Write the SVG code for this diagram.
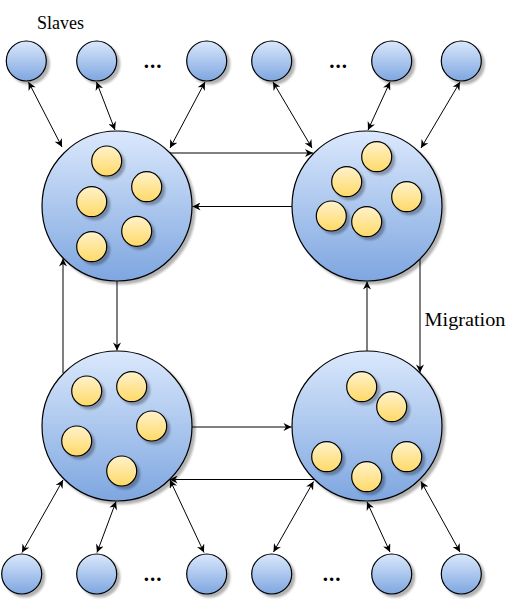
<svg xmlns="http://www.w3.org/2000/svg" width="524" height="601" viewBox="0 0 524 601">
<defs>
<linearGradient id="gb" x1="0" y1="0" x2="0" y2="1"><stop offset="0" stop-color="#dae8fc"/><stop offset="1" stop-color="#7ea6e0"/></linearGradient>
<linearGradient id="gy" x1="0" y1="0" x2="0" y2="1"><stop offset="0" stop-color="#fff2cc"/><stop offset="1" stop-color="#ffd966"/></linearGradient>
<filter id="sh" x="-20%" y="-20%" width="150%" height="150%"><feDropShadow dx="3" dy="3" stdDeviation="1.2" flood-color="#000" flood-opacity="0.3"/></filter>
<marker id="ar" viewBox="0 0 10 10" refX="10" refY="5" markerWidth="9" markerHeight="8" markerUnits="userSpaceOnUse" orient="auto-start-reverse"><path d="M0,0 L10,5 L0,10 L3,5 z" fill="#000"/></marker>
</defs>
<style>
.b{fill:url(#gb);stroke:#000;stroke-width:1.2;filter:url(#sh)}
.y{fill:url(#gy);stroke:#000;stroke-width:1.2;filter:url(#sh)}
.c{fill:none;stroke:#000;stroke-width:1}
.d{marker-start:url(#ar);marker-end:url(#ar)}
.e{marker-end:url(#ar)}
.t{font-family:"Liberation Serif","Times New Roman",serif;font-size:19px;fill:#000}
.dots{font-family:"Liberation Serif","Times New Roman",serif;font-size:21px;font-weight:bold;fill:#000;text-anchor:middle;letter-spacing:1px}
</style>
<g id="connectors">
<path class="c d" d="M28.5,82 L62,147"/>
<path class="c d" d="M96.5,82 L115,130"/>
<path class="c d" d="M205,82 L170,148"/>
<path class="c d" d="M273,82 L312,148"/>
<path class="c d" d="M390,82 L368,130"/>
<path class="c d" d="M460,82 L421,148"/>
<path class="c d" d="M63,480 L22,552.5"/>
<path class="c d" d="M116,501.5 L97,552.5"/>
<path class="c d" d="M170,480 L204,552.5"/>
<path class="c d" d="M313.5,481.5 L273.5,552"/>
<path class="c d" d="M367,502 L390,552"/>
<path class="c d" d="M421,481.5 L460,552"/>
<path class="c e" d="M170,153 H313"/>
<path class="c e" d="M292,206.5 H192.5"/>
<path class="c e" d="M117,281 V350.5"/>
<path class="c e" d="M63,373 V258.5"/>
<path class="c e" d="M420,259 V372.5"/>
<path class="c e" d="M367,351 V281.5"/>
<path class="c e" d="M192,427 H291.5"/>
<path class="c e" d="M314,479.5 H169.5"/>
</g>
<g id="master-tl">
<circle class="b" cx="117" cy="206" r="75"/>
<circle class="y" cx="106.7" cy="161" r="15"/>
<circle class="y" cx="146.7" cy="186.7" r="15"/>
<circle class="y" cx="91.7" cy="201.7" r="15"/>
<circle class="y" cx="136.7" cy="231.3" r="15"/>
<circle class="y" cx="91.7" cy="246.7" r="15"/>
</g>
<g id="master-tr">
<circle class="b" cx="367" cy="206" r="75"/>
<circle class="y" cx="376.7" cy="156.7" r="15"/>
<circle class="y" cx="346.7" cy="181.7" r="15"/>
<circle class="y" cx="406.7" cy="196.7" r="15"/>
<circle class="y" cx="331.3" cy="216" r="15"/>
<circle class="y" cx="366.7" cy="221.7" r="15"/>
</g>
<g id="master-bl">
<circle class="b" cx="117" cy="426" r="75"/>
<circle class="y" cx="86.7" cy="391" r="15"/>
<circle class="y" cx="131.7" cy="386.7" r="15"/>
<circle class="y" cx="151.7" cy="426" r="15"/>
<circle class="y" cx="76.7" cy="441" r="15"/>
<circle class="y" cx="121.7" cy="471" r="15"/>
</g>
<g id="master-br">
<circle class="b" cx="367" cy="426" r="75"/>
<circle class="y" cx="361.7" cy="386.7" r="15"/>
<circle class="y" cx="391.7" cy="406.7" r="15"/>
<circle class="y" cx="326.7" cy="456.7" r="15"/>
<circle class="y" cx="406.7" cy="456.7" r="15"/>
<circle class="y" cx="366.7" cy="476.7" r="15"/>
</g>
<g id="slaves-top">
<circle class="b" cx="26.3" cy="61" r="20"/>
<circle class="b" cx="96.7" cy="61" r="20"/>
<circle class="b" cx="206.7" cy="61" r="20"/>
<circle class="b" cx="271.7" cy="61" r="20"/>
<circle class="b" cx="391.7" cy="61" r="20"/>
<circle class="b" cx="461.3" cy="61" r="20"/>
</g>
<g id="slaves-bottom">
<circle class="b" cx="21.7" cy="574" r="20"/>
<circle class="b" cx="96.7" cy="574" r="20"/>
<circle class="b" cx="206.7" cy="574" r="20"/>
<circle class="b" cx="271.7" cy="574" r="20"/>
<circle class="b" cx="391.7" cy="574" r="20"/>
<circle class="b" cx="461.3" cy="574" r="20"/>
</g>
<g id="labels">
<text class="t" x="37" y="29" textLength="47" lengthAdjust="spacingAndGlyphs">Slaves</text>
<text class="t" x="424.5" y="326" textLength="81" lengthAdjust="spacingAndGlyphs">Migration</text>
<text class="dots" x="153" y="68">...</text>
<text class="dots" x="338.5" y="68">...</text>
<text class="dots" x="153" y="581">...</text>
<text class="dots" x="332" y="581">...</text>
</g>
</svg>
